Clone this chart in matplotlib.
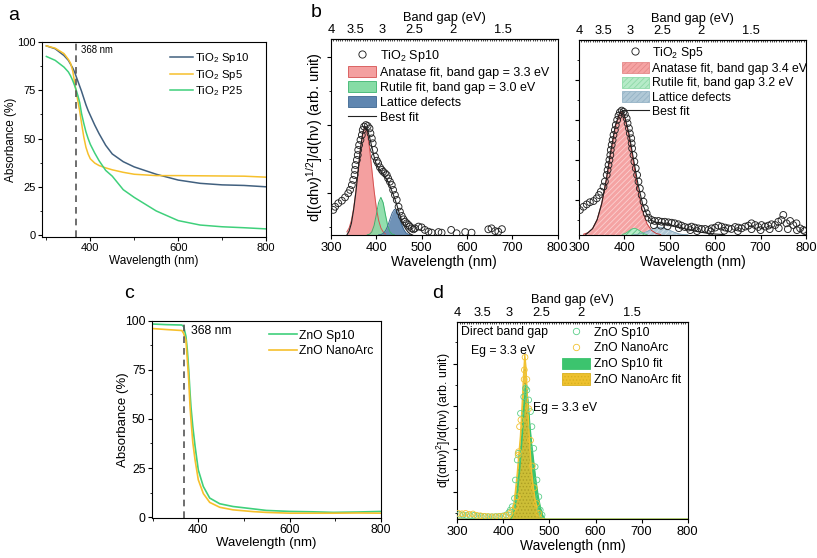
import matplotlib
matplotlib.use("Agg")
import matplotlib.pyplot as plt
from matplotlib.ticker import MultipleLocator, NullFormatter, FixedLocator
from matplotlib.patches import Patch
from matplotlib.lines import Line2D

plt.rcParams['font.family'] = ['Liberation Sans', 'DejaVu Sans']
plt.rcParams['mathtext.default'] = 'regular'
plt.rcParams['axes.linewidth'] = 0.8
plt.rcParams['hatch.linewidth'] = 0.6

# ---- panel a: TiO2 absorbance ----
wl_a = [300, 320, 340, 350, 355, 360, 365, 368, 372, 376, 380, 385, 390, 395, 400,
        410, 420, 435, 450, 475, 500, 550, 600, 650, 700, 750, 800]
abs_sp10 = [98, 96.5, 93, 90.5, 88.5, 86.5, 84, 82, 79.5, 77, 74.5, 71, 67.5, 64.5, 62,
            57, 52.5, 46.5, 42, 38, 35.3, 31.5, 28.5, 26.8, 26, 25.7, 25]
abs_sp5 = [98, 96.8, 94, 91, 89, 85, 78, 74, 69, 64, 58, 51, 45.5, 42, 39.5,
           37.3, 36, 34.8, 33.8, 32.5, 31.5, 30.8, 30.8, 30.7, 30.6, 30.5, 30]
abs_p25 = [92.5, 90.5, 87, 84.5, 82.5, 80, 77, 75, 72, 68.5, 63, 58, 53.5, 50, 47,
           42.5, 38.5, 33.5, 30.5, 23.5, 19.5, 12.5, 7.5, 5.2, 4.3, 3.8, 3.2]

# ---- panel c: ZnO absorbance ----
wl_c = [300, 330, 364, 368, 373, 376, 379, 382, 384, 388, 393, 400, 411, 425, 447,
        476, 520, 549, 600, 650, 695, 750, 800]
abs_zno_sp10 = [98.3, 98, 97.8, 97, 92, 85, 75, 63, 56, 46, 36, 24, 15.6, 9.7, 6.8,
                5.4, 4.2, 3.4, 2.9, 2.7, 2.4, 2.6, 2.9]
abs_zno_arc = [96, 95.5, 95, 93.5, 90, 80, 70, 56, 49.5, 38, 29, 19, 12, 7.5, 5,
               3.7, 2.8, 2.4, 2, 2, 2, 2.1, 2]

# ---- top axis (band gap) labels at wavelength positions ----
bg_pos = [300, 354, 412, 483, 569, 679]
bg_labels = ['4', '3.5', '3', '2.5', '2', '1.5']

# ---- panel b left: TiO2 Sp10 derivative ----
sp10_wl = [305, 309, 316, 324, 331, 338, 342, 346, 349, 352, 353, 354, 357, 359, 360,
           362, 365, 368, 370, 373, 377, 381, 385, 387, 390, 392, 395, 397, 401, 404,
           408, 412, 415, 419, 423, 426, 430, 434, 437, 441, 445, 449, 452, 456, 460,
           463, 467, 471, 474, 478, 482, 485, 493, 500, 507, 515, 522, 537, 544, 565,
           577, 596, 610, 647, 654, 662, 669, 677]
sp10_y = [0.128, 0.144, 0.162, 0.175, 0.192, 0.213, 0.230, 0.255, 0.281, 0.306, 0.332,
          0.357, 0.383, 0.408, 0.434, 0.459, 0.485, 0.510, 0.536, 0.553, 0.561, 0.556,
          0.544, 0.519, 0.493, 0.468, 0.434, 0.400, 0.379, 0.366, 0.345, 0.332, 0.323,
          0.315, 0.306, 0.289, 0.272, 0.255, 0.230, 0.204, 0.179, 0.144, 0.119, 0.097,
          0.080, 0.068, 0.060, 0.051, 0.043, 0.034, 0.029, 0.034, 0.043, 0.039, 0.026,
          0.017, 0.012, 0.015, 0.012, 0.026, 0.009, 0.015, 0.012, 0.029, 0.034, 0.020,
          0.017, 0.030]
sp10_fit_wl = [335, 340, 345, 350, 355, 360, 365, 370, 375, 380, 385, 390, 395, 400,
               405, 410, 415, 420]
sp10_anatase = [0.016, 0.036, 0.075, 0.138, 0.227, 0.335, 0.443, 0.523, 0.553, 0.523,
                0.443, 0.335, 0.227, 0.138, 0.075, 0.036, 0.016, 0.006]
sp10_rut_wl = [380, 385, 390, 395, 400, 405, 410, 415, 420, 425, 430, 435, 440]
sp10_rutile = [0.001, 0.004, 0.016, 0.048, 0.104, 0.165, 0.192, 0.165, 0.104, 0.048,
               0.016, 0.004, 0.001]
sp10_def_wl = [405, 410, 415, 420, 425, 430, 435, 440, 445, 450, 455, 460, 465, 470, 475]
sp10_defects = [0.001, 0.002, 0.008, 0.021, 0.045, 0.080, 0.113, 0.131, 0.123, 0.094,
                0.058, 0.030, 0.012, 0.004, 0.001]
sp10_best_wl = [335, 340, 345, 350, 355, 360, 365, 370, 375, 380, 385, 390, 395, 400,
                405, 410, 415, 420, 425, 430, 435, 440, 445, 450, 455, 460, 465, 470,
                475, 480]
sp10_best = [0.0, 0.02, 0.06, 0.13, 0.22, 0.33, 0.44, 0.52, 0.555, 0.54, 0.50, 0.45,
             0.40, 0.36, 0.34, 0.325, 0.31, 0.295, 0.275, 0.25, 0.22, 0.19, 0.155,
             0.115, 0.08, 0.05, 0.03, 0.015, 0.005, 0.0]

# ---- panel b right: TiO2 Sp5 derivative ----
sp5_wl = [302, 310, 317, 324, 332, 339, 344, 348, 354, 357, 361, 363, 365, 367, 369,
          370, 372, 374, 376, 379, 381, 384, 387, 390, 394, 398, 401, 405, 407, 410,
          412, 415, 416, 417, 420, 422, 425, 428, 431, 434, 438, 442, 445, 449, 453,
          460, 467, 475, 482, 489, 497, 504, 511, 519, 526, 533, 541, 548, 555, 563,
          570, 578, 585, 592, 600, 607, 614, 622, 629, 636, 644, 651, 658, 666, 673,
          680, 688, 695, 702, 710, 717, 724, 732, 739, 746, 750, 757, 765, 772, 779,
          787, 794, 465, 480, 495, 520, 545, 560, 590, 620, 650, 680, 700, 720, 740,
          760, 780, 797]
sp5_y = [0.128, 0.145, 0.157, 0.168, 0.174, 0.188, 0.205, 0.222, 0.248, 0.274, 0.308,
         0.333, 0.359, 0.385, 0.410, 0.436, 0.462, 0.487, 0.513, 0.538, 0.564, 0.590,
         0.612, 0.629, 0.638, 0.632, 0.619, 0.598, 0.573, 0.547, 0.521, 0.496, 0.470,
         0.444, 0.410, 0.376, 0.342, 0.308, 0.274, 0.239, 0.205, 0.171, 0.137, 0.111,
         0.089, 0.077, 0.072, 0.072, 0.068, 0.068, 0.065, 0.063, 0.060, 0.055, 0.048,
         0.041, 0.038, 0.043, 0.038, 0.034, 0.031, 0.031, 0.026, 0.034, 0.038, 0.048,
         0.043, 0.038, 0.034, 0.031, 0.041, 0.038, 0.034, 0.043, 0.048, 0.060, 0.051,
         0.041, 0.051, 0.043, 0.048, 0.055, 0.051, 0.068, 0.077, 0.103, 0.060, 0.072,
         0.051, 0.060, 0.034, 0.026, 0.050, 0.048, 0.045, 0.035, 0.025, 0.020, 0.018,
         0.022, 0.020, 0.030, 0.025, 0.030, 0.035, 0.030, 0.025, 0.020]
sp5_ana_wl = [310, 320, 330, 340, 350, 360, 370, 380, 390, 393, 400, 410, 420, 430,
              440, 450, 460, 470, 480]
sp5_anatase = [0.004, 0.012, 0.033, 0.079, 0.161, 0.282, 0.427, 0.558, 0.628, 0.632,
               0.609, 0.510, 0.369, 0.230, 0.123, 0.057, 0.023, 0.008, 0.002]
sp5_rut_wl = [395, 400, 405, 410, 415, 420, 425, 430, 435, 440, 445, 450]
sp5_rutile = [0.003, 0.006, 0.012, 0.021, 0.029, 0.034, 0.033, 0.027, 0.019, 0.011,
              0.005, 0.002]
sp5_def_wl = [420, 430, 440, 450, 460, 470, 478, 490, 500, 510, 520, 530, 540]
sp5_defects = [0.001, 0.004, 0.009, 0.018, 0.029, 0.038, 0.040, 0.034, 0.024, 0.014,
               0.006, 0.002, 0.001]
sp5_best_wl = [315, 320, 330, 340, 350, 360, 370, 380, 390, 395, 400, 410, 420, 430,
               440, 450, 460, 470, 480, 490, 500, 520, 540, 560, 580, 600, 620]
sp5_best = [0.003, 0.012, 0.033, 0.079, 0.161, 0.282, 0.43, 0.56, 0.63, 0.636, 0.615,
            0.52, 0.39, 0.26, 0.16, 0.10, 0.075, 0.065, 0.062, 0.058, 0.052, 0.040,
            0.028, 0.018, 0.010, 0.005, 0.002]

# ---- panel d: ZnO derivative ----
zno_sp10_wl = [305, 312, 320, 328, 336, 344, 352, 360, 368, 376, 384, 392, 400, 406,
               412, 415, 419, 424, 426, 430, 432, 437, 444, 448, 451, 455, 459, 462,
               466, 469, 473, 477, 480, 484]
zno_sp10_y = [0.025, 0.022, 0.020, 0.018, 0.020, 0.017, 0.015, 0.014, 0.013, 0.013,
              0.014, 0.015, 0.017, 0.022, 0.035, 0.047, 0.064, 0.106, 0.199, 0.300,
              0.334, 0.536, 0.62, 0.663, 0.654, 0.604, 0.545, 0.469, 0.359, 0.266,
              0.199, 0.114, 0.047, 0.022]
zno_arc_wl = [302, 310, 318, 326, 334, 342, 350, 358, 366, 374, 382, 390, 398, 406,
              414, 420, 426, 430, 432, 433, 435, 438, 445, 445.5, 447, 451, 455, 459,
              463, 467, 472, 477]
zno_arc_y = [0.030, 0.028, 0.030, 0.025, 0.027, 0.020, 0.018, 0.015, 0.014, 0.013,
             0.013, 0.014, 0.016, 0.020, 0.030, 0.045, 0.064, 0.114, 0.325, 0.342,
             0.469, 0.503, 0.708, 0.756, 0.820, 0.708, 0.56, 0.40, 0.27, 0.16, 0.08,
             0.03]
zno_fit_wl = [300, 410, 415, 420, 425, 430, 435, 440, 445, 449, 453, 457, 461, 465,
              470, 475, 480, 485, 490, 800]
zno_sp10_fit = [0.0, 0.0, 0.0, 0.02, 0.06, 0.13, 0.25, 0.40, 0.58, 0.68, 0.60, 0.48,
                0.38, 0.30, 0.20, 0.12, 0.06, 0.02, 0.0, 0.0]
zno_arc_fit_wl = [300, 412, 418, 422, 426, 430, 434, 437, 440, 442, 444, 446.5, 449,
                  451, 453, 455, 458, 461, 465, 469, 474, 480, 485, 490, 800]
zno_arc_fit = [0.0, 0.0, 0.02, 0.064, 0.14, 0.23, 0.34, 0.42, 0.55, 0.64, 0.74, 0.83,
               0.77, 0.67, 0.57, 0.47, 0.35, 0.245, 0.16, 0.10, 0.05, 0.02, 0.005, 0.0,
               0.0]

C_BLUE = '#41607f'
C_YEL = '#f6c02c'
C_GRN = '#3fd07b'
FS_B = 9.3


def style_abs_axes(ax, xlim, fs, lfs):
    ax.set_xlim(*xlim)
    ax.set_ylim(-1, 100)
    ax.xaxis.set_major_locator(FixedLocator([400, 600, 800]))
    ax.xaxis.set_minor_locator(MultipleLocator(100))
    ax.yaxis.set_major_locator(MultipleLocator(25))
    ax.yaxis.set_minor_locator(MultipleLocator(12.5))
    ax.tick_params(which='major', direction='out', length=3, width=0.8, labelsize=fs, pad=1.5)
    ax.tick_params(which='minor', direction='out', length=1.8, width=0.6)
    ax.set_xlabel('Wavelength (nm)', fontsize=lfs, labelpad=1)
    ax.set_ylabel('Absorbance (%)', fontsize=lfs)


def style_deriv_axes(ax, fs, major, minor):
    ax.set_xlim(300, 800)
    ax.set_ylim(0, 1)
    ax.xaxis.set_major_locator(MultipleLocator(100))
    ax.yaxis.set_major_locator(FixedLocator(major))
    ax.yaxis.set_minor_locator(FixedLocator(minor))
    ax.yaxis.set_major_formatter(NullFormatter())
    ax.tick_params(which='major', direction='out', length=3, width=0.8, labelsize=fs, pad=2)
    ax.tick_params(which='minor', direction='out', length=1.8, width=0.6)
    ax.set_xlabel('Wavelength (nm)', fontsize=fs + 0.7, labelpad=0.5)
    top = ax.secondary_xaxis('top')
    top.set_xticks(bg_pos, labels=bg_labels)
    top.xaxis.set_minor_locator(MultipleLocator(5))
    top.tick_params(which='major', direction='in', length=0, labelsize=fs, pad=2)
    top.tick_params(which='minor', direction='in', length=1.3, width=0.5)
    top.set_xlabel('Band gap (eV)', fontsize=fs, labelpad=2.5)


fig = plt.figure(figsize=(8.17, 5.58), dpi=100)

# ---------------- a ----------------
ax = fig.add_axes([42 / 817, 1 - 237 / 558, 224 / 817, 195 / 558])
ax.plot(wl_a, abs_sp10, color=C_BLUE, lw=1.1, label='TiO$_2$ Sp10')
ax.plot(wl_a, abs_sp5, color=C_YEL, lw=1.1, label='TiO$_2$ Sp5')
ax.plot(wl_a, abs_p25, color=C_GRN, lw=1.1, label='TiO$_2$ P25')
ax.axvline(368, color='#555555', ls=(0, (4, 3)), lw=1.2)
ax.text(379, 96, '368 nm', fontsize=6.9, va='center')
style_abs_axes(ax, (290, 800), 8, 8.5)
ax.yaxis.set_label_coords(-0.113, 0.5)
ax.legend(loc='upper left', bbox_to_anchor=(0.571, 0.955), frameon=False, fontsize=8.2,
          handlelength=2.0, handletextpad=0.2, labelspacing=0.25, borderpad=0,
          borderaxespad=0)

# ---------------- b left ----------------
ax = fig.add_axes([331 / 817, 1 - 235 / 558, 226.7 / 817, 196 / 558])
ax.fill_between(sp10_fit_wl, 0, sp10_anatase, color='#f4a0a0', lw=0)
ax.plot(sp10_fit_wl, sp10_anatase, color='#d65252', lw=0.7)
ax.fill_between(sp10_rut_wl, 0, sp10_rutile, color='#86dca5', alpha=0.9, lw=0)
ax.plot(sp10_rut_wl, sp10_rutile, color='#3cb46e', lw=0.7)
ax.fill_between(sp10_def_wl, 0, sp10_defects, color='#5f86b0', alpha=0.9, lw=0)
ax.plot(sp10_def_wl, sp10_defects, color='#3d6791', lw=0.7)
ax.scatter(sp10_wl, sp10_y, s=24, facecolors='none', edgecolors='#222222', linewidths=0.65,
           zorder=3)
ax.plot(sp10_best_wl, sp10_best, color='#222222', lw=0.8, zorder=4)
style_deriv_axes(ax, FS_B, [0.214, 0.561, 0.908], [0.041, 0.388, 0.735])
ax.set_ylabel('d[(αhν)$^{1/2}$]/d(hν) (arb. unit)', fontsize=10.5)
ax.yaxis.set_label_coords(-0.025, 0.5)
handles = [Line2D([], [], ls='none', marker='o', mfc='none', mec='#222222', ms=5.2, mew=0.65),
           Patch(fc='#f4a0a0', ec='#d65252', lw=0.6),
           Patch(fc='#86dca5', ec='#3cb46e', lw=0.6),
           Patch(fc='#5f86b0', ec='#3d6791', lw=0.6),
           Line2D([], [], color='#222222', lw=0.8)]
labels = ['TiO$_2$ Sp10', 'Anatase fit, band gap = 3.3 eV', 'Rutile fit, band gap = 3.0 eV',
          'Lattice defects', 'Best fit']
ax.legend(handles, labels, loc='upper left', bbox_to_anchor=(0.075, 0.955), frameon=False,
          fontsize=9.0, handlelength=2.25, handleheight=1.05, handletextpad=0.3,
          labelspacing=0.15, borderpad=0, borderaxespad=0)

# ---------------- b right ----------------
ax = fig.add_axes([579 / 817, 1 - 235 / 558, 227 / 817, 195 / 558])
ax.fill_between(sp5_ana_wl, 0, sp5_anatase, facecolor='#f5a3a3', edgecolor='#fbd0d0',
                hatch='//////', lw=0)
ax.plot(sp5_ana_wl, sp5_anatase, color='#c83a3a', lw=0.7)
ax.fill_between(sp5_def_wl, 0, sp5_defects, facecolor='#b0c8d6', edgecolor='#d6e3ea',
                hatch='//////', lw=0)
ax.plot(sp5_def_wl, sp5_defects, color='#7fa3bb', lw=0.6)
ax.fill_between(sp5_rut_wl, 0, sp5_rutile, facecolor='#b6ebc8', edgecolor='#5cc484',
                hatch='//////', lw=0)
ax.plot(sp5_rut_wl, sp5_rutile, color='#4cc47a', lw=0.6)
ax.scatter(sp5_wl, sp5_y, s=24, facecolors='none', edgecolors='#222222', linewidths=0.65,
           zorder=3)
ax.plot(sp5_best_wl, sp5_best, color='#222222', lw=0.8, zorder=4)
style_deriv_axes(ax, FS_B, [0.179, 0.385, 0.590, 0.795], [0.077, 0.282, 0.487, 0.692, 0.897])
handles = [Line2D([], [], ls='none', marker='o', mfc='none', mec='#222222', ms=5.2, mew=0.65),
           Patch(fc='#f5a3a3', ec='#e58a8a', hatch='//////', lw=0.6),
           Patch(fc='#b6ebc8', ec='#8edaa8', hatch='//////', lw=0.6),
           Patch(fc='#b0c8d6', ec='#95b3c6', hatch='//////', lw=0.6),
           Line2D([], [], color='#222222', lw=0.8)]
labels = ['TiO$_2$ Sp5', 'Anatase fit, band gap 3.4 eV', 'Rutile fit, band gap 3.2 eV',
          'Lattice defects', 'Best fit']
ax.legend(handles, labels, loc='upper left', bbox_to_anchor=(0.188, 0.975), frameon=False,
          fontsize=8.8, handlelength=2.25, handleheight=1.0, handletextpad=0.25,
          labelspacing=0.13, borderpad=0, borderaxespad=0)

# ---------------- c ----------------
ax = fig.add_axes([151.7 / 817, 1 - 517.7 / 558, 229.3 / 817, 197 / 558])
ax.plot(wl_c, abs_zno_sp10, color=C_GRN, lw=1.2, label='ZnO Sp10')
ax.plot(wl_c, abs_zno_arc, color=C_YEL, lw=1.2, label='ZnO NanoArc')
ax.axvline(368, color='#555555', ls=(0, (4, 3)), lw=1.2)
ax.text(384, 95, '368 nm', fontsize=8.7, va='center')
style_abs_axes(ax, (298, 800), 8.8, 9.5)
ax.set_ylim(-0.3, 100)
ax.yaxis.set_label_coords(-0.101, 0.5)
ax.legend(loc='upper left', bbox_to_anchor=(0.511, 0.955), frameon=False, fontsize=8.7,
          handlelength=2.3, handletextpad=0.2, labelspacing=0.3, borderpad=0,
          borderaxespad=0)

# ---------------- d ----------------
ax = fig.add_axes([457.3 / 817, 1 - 519.3 / 558, 230.4 / 817, 197.6 / 558])
ax.fill_between(zno_fit_wl, 0, zno_sp10_fit, color='#3cc46e', lw=0)
ax.plot(zno_fit_wl, zno_sp10_fit, color='#3cc46e', lw=1.2)
ax.fill_between(zno_arc_fit_wl, 0, zno_arc_fit, facecolor='#e6bd2c', edgecolor='#a89a20',
                hatch='.....', alpha=0.85, lw=0)
ax.plot(zno_arc_fit_wl, zno_arc_fit, color='#f2c230', lw=1.0)
ax.scatter(zno_sp10_wl, zno_sp10_y, s=17, facecolors='none', edgecolors='#5ccf8a',
           linewidths=0.6, zorder=3)
ax.scatter(zno_arc_wl, zno_arc_y, s=17, facecolors='none', edgecolors='#f2c230',
           linewidths=0.6, zorder=3)
ax.text(307, 0.948, 'Direct band gap', fontsize=8.8, va='center')
ax.text(330, 0.853, 'Eg = 3.3 eV', fontsize=8.8, va='center')
ax.text(464, 0.563, 'Eg = 3.3 eV', fontsize=8.8, va='center')
style_deriv_axes(ax, FS_B, [0.14, 0.356, 0.572, 0.788], [0.03, 0.248, 0.464, 0.68, 0.896])
ax.set_ylabel('d[(αhν)$^2$]/d(hν) (arb. unit)', fontsize=8.8)
ax.yaxis.set_label_coords(-0.018, 0.5)
handles = [Line2D([], [], ls='none', marker='o', mfc='none', mec='#5ccf8a', ms=4.6, mew=0.6),
           Line2D([], [], ls='none', marker='o', mfc='none', mec='#f2c230', ms=4.6, mew=0.6),
           Patch(fc='#3cc46e', ec='#3cc46e', lw=0.6),
           Patch(fc='#eec12e', ec='#d8b020', hatch='.....', lw=0.6)]
labels = ['ZnO Sp10', 'ZnO NanoArc', 'ZnO Sp10 fit', 'ZnO NanoArc fit']
ax.legend(handles, labels, loc='upper left', bbox_to_anchor=(0.455, 0.98), frameon=False,
          fontsize=8.7, handlelength=2.3, handleheight=1.1, handletextpad=0.3,
          labelspacing=0.25, borderpad=0, borderaxespad=0)

# panel letters
fig.text(8 / 817, 1 - 20 / 558, 'a', fontsize=14, va='baseline')
fig.text(311 / 817, 1 - 17 / 558, 'b', fontsize=14, va='baseline')
fig.text(124 / 817, 1 - 298 / 558, 'c', fontsize=14, va='baseline')
fig.text(432 / 817, 1 - 298 / 558, 'd', fontsize=14, va='baseline')

fig.savefig('out.png', dpi=100)
